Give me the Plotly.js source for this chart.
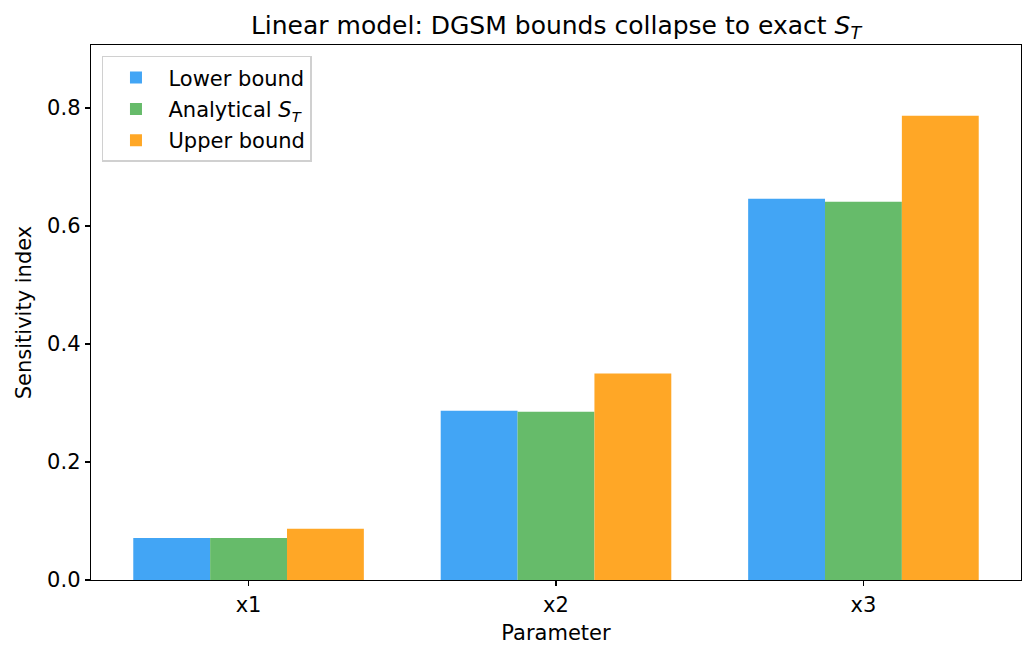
<!DOCTYPE html>
<html>
<head>
<meta charset="utf-8">
<script src="https://cdn.plot.ly/plotly-3.0.1.min.js"></script>
<style>
  body { margin: 0; background: #fff; }
  #chart { width: 1034px; height: 660px; }
</style>
</head>
<body>
<div id="chart"></div>
<script>
// values
const parameters = ['x1', 'x2', 'x3'];
const lowerBound = [0.071, 0.287, 0.646];
const analyticalST = [0.071, 0.285, 0.641];
const upperBound = [0.087, 0.350, 0.787];

const font = 'DejaVu Sans, sans-serif';

const traces = [
    { name: 'Lower bound', y: lowerBound, color: '#42A5F5' },
    { name: 'Analytical <i>S</i><sub><i>T</i></sub>', y: analyticalST, color: '#66BB6A' },
    { name: 'Upper bound', y: upperBound, color: '#FFA726' }
].map((t, i) => ({
    type: 'bar',
    x: parameters,
    y: t.y,
    name: t.name,
    legendgroup: 'g' + i,
    marker: { color: t.color, line: { width: 0 } }
}));

const layout = {
    width: 1034,
    height: 660,
    paper_bgcolor: '#fff',
    plot_bgcolor: '#fff',
    font: { family: font, size: 21, color: '#000' },
    margin: { l: 91, r: 13, t: 45, b: 80 },
    barmode: 'group',
    bargap: 0.25,
    bargroupgap: 0,
    title: {
        text: 'Linear model: DGSM bounds collapse to exact <i>S</i><sub><i>T</i></sub>',
        font: { family: font, size: 25, color: '#000' },
        xref: 'paper', x: 0.5, xanchor: 'center',
        y: 0.962, yanchor: 'middle'
    },
    xaxis: {
        type: 'category',
        range: [-0.5125, 2.5125],
        showline: true, mirror: true, linecolor: '#000', linewidth: 1.3,
        ticks: 'outside', ticklen: 5, tickwidth: 1.3, tickcolor: '#000',
        showgrid: false, zeroline: false,
        tickfont: { size: 21 },
        title: { text: 'Parameter', font: { size: 21 }, standoff: 9 }
    },
    yaxis: {
        range: [0, 0.9068],
        dtick: 0.2, tick0: 0, tickformat: '.1f',
        showline: true, mirror: true, linecolor: '#000', linewidth: 1.3,
        ticks: 'outside', ticklen: 5, tickwidth: 1.3, tickcolor: '#000',
        showgrid: false, zeroline: false,
        tickfont: { size: 21 },
        title: { text: 'Sensitivity index', font: { size: 21 }, standoff: 9 }
    },
    legend: {
        x: 0.0118, y: 0.9795, xanchor: 'left', yanchor: 'top',
        bgcolor: 'rgba(255,255,255,0.8)',
        bordercolor: '#d0d0d0', borderwidth: 1.5,
        font: { size: 21 },
        itemwidth: 55,
        tracegroupgap: 1
    },
    showlegend: true
};

Plotly.newPlot('chart', traces, layout, { displayModeBar: false, staticPlot: true });
</script>
</body>
</html>
